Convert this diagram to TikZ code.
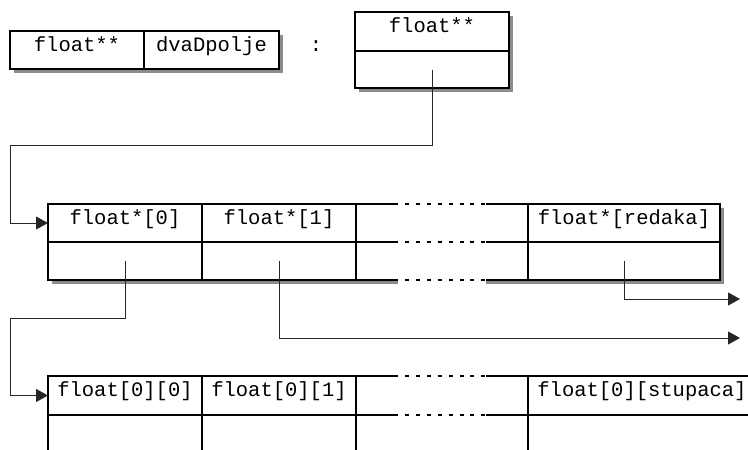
\documentclass[tikz,border=0pt]{standalone}
\usepackage{fontspec}
\setmonofont{Liberation Mono}
\usetikzlibrary{arrows.meta}
\tikzset{
  txt/.style={inner sep=0pt, outer sep=0pt, font=\ttfamily\fontsize{20.5}{24}\selectfont, text height=12pt, text depth=10pt},
  box/.style={txt, draw, line width=1.5pt, fill=white},
  conn/.style={line width=0.9pt, draw=black!85},
  arr/.style={conn, -{Triangle[length=12pt,width=13pt]}},
  shadowfill/.style={fill=black!45},
  solidline/.style={line width=1.5pt},
  gapline/.style={line width=1.5pt, dash pattern=on 4pt off 6.9pt},
}
\begin{document}
\begin{tikzpicture}[x=1pt,y=-1pt]
\useasboundingbox (0,0) rectangle (748,450);
\clip (0,0) rectangle (748,450);

% ---- top left: variable declaration
\fill[shadowfill] (14,35) rectangle (283,73);
\node[box, minimum width=134pt, minimum height=38pt] (vt) at (77,50) {float**};
\node[box, minimum width=135pt, minimum height=38pt] (vn) at (211.5,50) {dvaDpolje};
\node[txt] (colon) at (316,50) {:};

% ---- top right: the pointer variable
\fill[shadowfill] (359,16) rectangle (513,92);
\node[box, minimum width=154pt, minimum height=39pt] (pt) at (432,31.5) {float**};
\node[box, minimum width=154pt, minimum height=37pt] (pb) at (432,69.5) {};

% ---- middle row: array of row pointers
\fill[shadowfill] (52,208) rectangle (398,284);
\fill[shadowfill] (486,208) rectangle (724,284);
\fill[white] (48,204) rectangle (398,280);
\fill[white] (486,204) rectangle (720,280);
\node[box, minimum width=154pt, minimum height=38pt] (c0t) at (125,223) {float*[0]};
\node[box, minimum width=154pt, minimum height=38pt] (c0b) at (125,261) {};
\node[box, minimum width=154pt, minimum height=38pt] (c1t) at (279,223) {float*[1]};
\node[box, minimum width=154pt, minimum height=38pt] (c1b) at (279,261) {};
\node[box, minimum width=192pt, minimum height=38pt] (c3t) at (624,223) {float*[redaka]};
\node[box, minimum width=192pt, minimum height=38pt] (c3b) at (624,261) {};
\foreach \yy in {204,242,280} {
  \draw[solidline] (356,\yy) -- (398,\yy);
  \draw[solidline] (486,\yy) -- (528,\yy);
  \draw[gapline] (405,\yy) -- (486,\yy);
}

% ---- bottom row: the first row of floats
\node[box, minimum width=154pt, minimum height=39pt] (d0t) at (125,395.5) {float[0][0]};
\node[box, minimum width=154pt, minimum height=38pt] (d0b) at (125,434) {};
\node[box, minimum width=154pt, minimum height=39pt] (d1t) at (279,395.5) {float[0][1]};
\node[box, minimum width=154pt, minimum height=38pt] (d1b) at (279,434) {};
\node[box, minimum width=228pt, minimum height=39pt] (d3t) at (642,395.5) {float[0][stupaca]};
\node[box, minimum width=228pt, minimum height=38pt] (d3b) at (642,434) {};
\draw[solidline] (356,376) -- (398,376);
\draw[solidline] (486,376) -- (528,376);
\draw[gapline] (405,376) -- (486,376);
\draw[solidline] (356,415) -- (398,415);
\draw[solidline] (486,415) -- (528,415);
\draw[gapline] (405,415) -- (486,415);

% ---- connectors
\coordinate (k1) at (10,145);
\coordinate (k2) at (10,318);
\coordinate (e1) at (740,338);
\coordinate (e2) at (740,299);
\draw[arr] (pb.center) |- (k1) |- (c0t.west);
\draw[arr] (c0b.center) |- (k2) |- (d0t.west);
\draw[arr] (c1b.center) |- (e1);
\draw[arr] (c3b.center) |- (e2);
\end{tikzpicture}
\end{document}
